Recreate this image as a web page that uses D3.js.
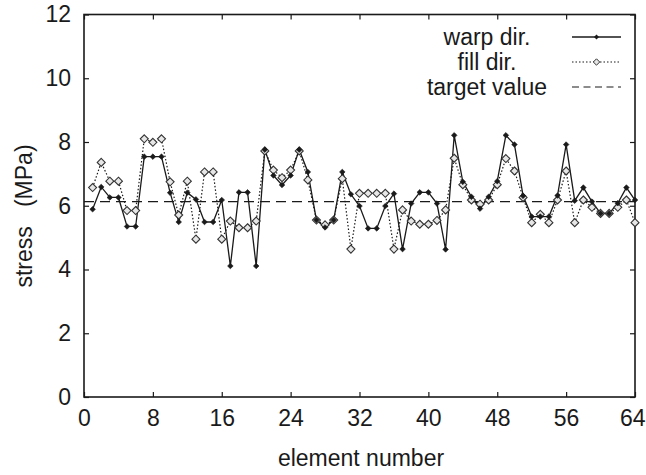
<!DOCTYPE html>
<html>
<head>
<meta charset="utf-8">
<script src="https://cdn.jsdelivr.net/npm/d3@7"></script>
<style>
  html, body { margin: 0; padding: 0; background: #fff; }
  svg { display: block; font-family: "Liberation Sans", Arial, Helvetica, sans-serif; }
</style>
</head>
<body>
<svg id="chart" width="646" height="475"></svg>
<script>
// Stress per element along warp and fill directions
const elements = d3.range(1, 65);
const warpStress = [
  5.89, 6.59, 6.26, 6.26, 5.35, 5.35, 7.54, 7.54, 7.54, 6.41,
  5.49, 6.41, 6.20, 5.49, 5.49, 6.18, 4.11, 6.42, 6.42, 4.11,
  7.76, 6.95, 6.65, 6.95, 7.76, 7.06, 5.55, 5.32, 5.55, 7.06,
  6.36, 5.99, 5.29, 5.29, 5.99, 6.38, 4.64, 6.07, 6.42, 6.42,
  6.07, 4.63, 8.21, 6.75, 6.28, 5.91, 6.28, 6.77, 8.21, 7.92,
  6.31, 5.66, 5.66, 5.66, 6.32, 7.92, 6.16, 6.57, 6.13, 5.76,
  5.76, 6.08, 6.57, 6.18
];
const fillStress = [
  6.57, 7.36, 6.77, 6.77, 5.85, 5.85, 8.10, 7.99, 8.10, 6.75,
  5.71, 6.77, 4.95, 7.06, 7.06, 4.95, 5.52, 5.31, 5.31, 5.52,
  7.72, 7.12, 6.88, 7.12, 7.72, 6.81, 5.55, 5.40, 5.55, 6.85,
  4.64, 6.39, 6.39, 6.39, 6.39, 4.64, 5.87, 5.52, 5.42, 5.42,
  5.54, 5.87, 7.49, 6.66, 6.18, 6.05, 6.18, 6.66, 7.48, 7.09,
  6.26, 5.47, 5.73, 5.47, 6.18, 7.09, 5.47, 6.18, 5.95, 5.76,
  5.76, 5.95, 6.18, 5.47
];
const targetValue = 6.13;
const xTicks = [0, 8, 16, 24, 32, 40, 48, 56, 64];
const yTicks = [0, 2, 4, 6, 8, 10, 12];
const legendLabels = ["warp dir.", "fill dir.", "target value"];

const ink = "#1a1a1a";
const fontSize = 23;
const svg = d3.select("#chart");
const plot = { left: 84, right: 635, top: 14.5, bottom: 397 };

const x = d3.scaleLinear().domain([0, 64]).range([plot.left, plot.right]);
const y = d3.scaleLinear().domain([0, 12]).range([plot.bottom, plot.top]);

// Axes: labels on bottom/left, inward ticks on all four sides
const tickLen = 5;
const bottomAxis = svg.append("g")
  .attr("transform", `translate(0,${plot.bottom})`)
  .call(d3.axisBottom(x).tickValues(xTicks).tickSizeInner(-tickLen).tickSizeOuter(0).tickPadding(13));
const leftAxis = svg.append("g")
  .attr("transform", `translate(${plot.left},0)`)
  .call(d3.axisLeft(y).tickValues(yTicks).tickSizeInner(-tickLen).tickSizeOuter(0).tickPadding(13));
const topAxis = svg.append("g")
  .attr("transform", `translate(0,${plot.top})`)
  .call(d3.axisTop(x).tickValues(xTicks).tickSizeInner(-tickLen).tickSizeOuter(0).tickFormat(""));
const rightAxis = svg.append("g")
  .attr("transform", `translate(${plot.right},0)`)
  .call(d3.axisRight(y).tickValues(yTicks).tickSizeInner(-tickLen).tickSizeOuter(0).tickFormat(""));

[bottomAxis, leftAxis, topAxis, rightAxis].forEach(g => {
  g.select(".domain").remove();
  g.selectAll(".tick line").attr("stroke", ink).attr("stroke-width", 1.2);
  g.selectAll(".tick text").attr("fill", ink).attr("font-size", fontSize)
    .attr("font-family", "Liberation Sans, Arial, sans-serif");
});
bottomAxis.selectAll(".tick text").attr("dy", "0.71em");
// keep the last x label inside the page edge
bottomAxis.selectAll(".tick text").filter(d => d === 64)
  .attr("text-anchor", "end").attr("x", 10);

// Frame
svg.append("rect")
  .attr("x", plot.left).attr("y", plot.top)
  .attr("width", plot.right - plot.left).attr("height", plot.bottom - plot.top)
  .attr("fill", "none").attr("stroke", ink).attr("stroke-width", 1.6);

// Axis titles
svg.append("text")
  .attr("x", 361).attr("y", 466)
  .attr("text-anchor", "middle").attr("font-size", fontSize).attr("fill", ink)
  .text("element number");
svg.append("text")
  .attr("transform", "translate(32,216) rotate(-90)")
  .attr("text-anchor", "middle").attr("font-size", fontSize).attr("fill", ink)
  .attr("xml:space", "preserve").style("white-space", "pre")
  .text("stress   (MPa)");

// Target value
svg.append("line")
  .attr("x1", plot.left).attr("x2", plot.right)
  .attr("y1", y(targetValue)).attr("y2", y(targetValue))
  .attr("stroke", ink).attr("stroke-width", 1.2).attr("stroke-dasharray", "10,6");

const line = d3.line().x((d, i) => x(elements[i])).y(d => y(d));

// Fill direction: dotted line with open diamonds
svg.append("path").datum(fillStress)
  .attr("d", line).attr("fill", "none").attr("stroke", ink)
  .attr("stroke-width", 1.2).attr("stroke-dasharray", "1.5,2");

// Warp direction: solid line with small filled markers
svg.append("path").datum(warpStress)
  .attr("d", line).attr("fill", "none").attr("stroke", ink).attr("stroke-width", 1.3);

const diamond = r => `M0,${-r}L${r},0L0,${r}L${-r},0Z`;

svg.append("g").selectAll("path").data(fillStress).join("path")
  .attr("transform", (d, i) => `translate(${x(elements[i])},${y(d)})`)
  .attr("d", diamond(4)).attr("fill", "#e6e6e6").attr("stroke", "#333").attr("stroke-width", 1.1);

svg.append("g").selectAll("path").data(warpStress).join("path")
  .attr("transform", (d, i) => `translate(${x(elements[i])},${y(d)})`)
  .attr("d", diamond(2.8)).attr("fill", ink).attr("stroke", ink).attr("stroke-width", 0.6);

// Legend: centred labels with line samples on the right
const legend = svg.append("g");
const rows = [37, 62, 87];
legendLabels.forEach((label, i) => {
  legend.append("text")
    .attr("x", 487).attr("y", rows[i]).attr("dy", "0.35em")
    .attr("text-anchor", "middle").attr("font-size", fontSize).attr("fill", ink)
    .text(label);
});
const lx0 = 572, lx1 = 621, lmid = (lx0 + lx1) / 2;
legend.append("line").attr("x1", lx0).attr("x2", lx1).attr("y1", rows[0]).attr("y2", rows[0])
  .attr("stroke", ink).attr("stroke-width", 1.3);
legend.append("path").attr("transform", `translate(${lmid},${rows[0]})`)
  .attr("d", diamond(2.5)).attr("fill", ink);
legend.append("line").attr("x1", lx0).attr("x2", lx1).attr("y1", rows[1]).attr("y2", rows[1])
  .attr("stroke", ink).attr("stroke-width", 1.2).attr("stroke-dasharray", "1.5,2");
legend.append("path").attr("transform", `translate(${lmid},${rows[1]})`)
  .attr("d", diamond(3.2)).attr("fill", "#e6e6e6").attr("stroke", "#333").attr("stroke-width", 1);
legend.append("line").attr("x1", lx0).attr("x2", lx1).attr("y1", rows[2]).attr("y2", rows[2])
  .attr("stroke", ink).attr("stroke-width", 1.2).attr("stroke-dasharray", "7,4.5");
</script>
</body>
</html>
